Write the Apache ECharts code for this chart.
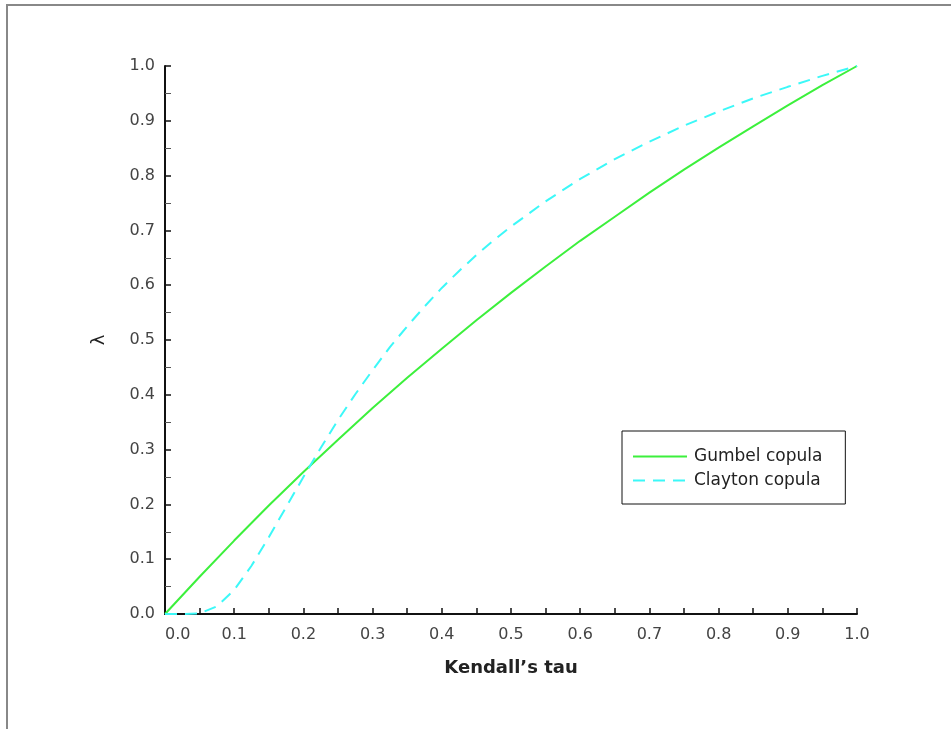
<!DOCTYPE html>
<html>
<head>
<meta charset="utf-8">
<script src="https://cdn.jsdelivr.net/npm/echarts@6/dist/echarts.min.js"></script>
<style>
  html, body { margin: 0; padding: 0; background: #fff; }
  #chart { width: 951px; height: 731px; }
</style>
</head>
<body>
<div id="chart"></div>
<script>
// Upper tail dependence λ as a function of Kendall's tau
const gumbelTau = [0, 0.05, 0.1, 0.15, 0.2, 0.25, 0.3, 0.35, 0.4, 0.45, 0.5,
  0.55, 0.6, 0.65, 0.7, 0.75, 0.8, 0.85, 0.9, 0.95, 1.0];
const gumbelLambda = [0, 0.068, 0.134, 0.198, 0.259, 0.318, 0.376, 0.431, 0.484, 0.536, 0.586,
  0.634, 0.681, 0.725, 0.769, 0.811, 0.851, 0.890, 0.928, 0.965, 1.0];

const claytonTau = [0, 0.025, 0.05, 0.075, 0.1, 0.125, 0.15, 0.175, 0.2, 0.225, 0.25, 0.275, 0.3,
  0.325, 0.35, 0.375, 0.4, 0.425, 0.45, 0.475, 0.5, 0.55, 0.6, 0.65, 0.7, 0.75, 0.8, 0.85, 0.9, 0.95, 1.0];
const claytonLambda = [0, 0, 0.001, 0.014, 0.044, 0.088, 0.140, 0.195, 0.250, 0.303, 0.354, 0.401, 0.445,
  0.487, 0.525, 0.561, 0.595, 0.626, 0.655, 0.682, 0.707, 0.753, 0.794, 0.830, 0.862, 0.891, 0.917,
  0.941, 0.962, 0.982, 1.0];

const seriesNames = ['Gumbel copula', 'Clayton copula'];
const xTitle = 'Kendall\u2019s tau';
const yTitle = '\u03bb';

const pairs = (xs, ys) => xs.map((x, i) => [x, ys[i]]);
const labelFont = 'DejaVu Sans';

const chart = echarts.init(document.getElementById('chart'));
chart.setOption({
  backgroundColor: '#fff',
  animation: false,
  grid: { left: 165, right: 94, top: 66, bottom: 117, containLabel: false },
  xAxis: {
    type: 'value', min: 0, max: 1, interval: 0.1,
    name: xTitle, nameLocation: 'middle', nameGap: 45,
    nameTextStyle: { fontFamily: labelFont, fontSize: 18, fontWeight: 'bold', color: '#222' },
    axisLine: { show: true, lineStyle: { color: '#111', width: 2 } },
    axisTick: { show: true, inside: true, length: 6, lineStyle: { color: '#111', width: 1.5 } },
    minorTick: { show: true, splitNumber: 2, length: 6, lineStyle: { color: '#111', width: 1.5 } },
    axisLabel: { fontFamily: labelFont, fontSize: 16, color: '#444', margin: 13, alignMinLabel: 'left',
      formatter: v => v.toFixed(1) },
    splitLine: { show: false }
  },
  yAxis: {
    type: 'value', min: 0, max: 1, interval: 0.1,
    name: yTitle, nameLocation: 'middle', nameGap: 57, nameRotate: 90,
    nameTextStyle: { fontFamily: labelFont, fontSize: 18, color: '#222' },
    axisLine: { show: true, lineStyle: { color: '#111', width: 2 } },
    axisTick: { show: true, inside: true, length: 6, lineStyle: { color: '#111', width: 1.5 } },
    minorTick: { show: true, splitNumber: 2, length: 6, lineStyle: { color: '#555', width: 1 } },
    axisLabel: { fontFamily: labelFont, fontSize: 16, color: '#444', margin: 10,
      formatter: v => v.toFixed(1) },
    splitLine: { show: false }
  },
  legend: {
    orient: 'vertical', left: 622, top: 431,
    padding: [17, 23, 15, 10], itemGap: 7,
    itemWidth: 54, itemHeight: 14,
    borderColor: '#111', borderWidth: 1, backgroundColor: '#fff',
    itemStyle: { opacity: 0 },
    textStyle: { fontFamily: labelFont, fontSize: 17, color: '#222', padding: [0, 0, 0, 2] },
    data: seriesNames
  },
  graphic: [
    { type: 'polyline', silent: true,
      shape: { points: [[7, 729], [7, 5], [951, 5]] },
      style: { stroke: '#888', lineWidth: 2, fill: null } }
  ],
  series: [
    { name: seriesNames[0], type: 'line', data: pairs(gumbelTau, gumbelLambda),
      showSymbol: false, symbol: 'none', smooth: false,
      color: '#3cf03c', lineStyle: { color: '#3cf03c', width: 2 } },
    { name: seriesNames[1], type: 'line', data: pairs(claytonTau, claytonLambda),
      showSymbol: false, symbol: 'none', smooth: false,
      color: '#3cf8f8', lineStyle: { color: '#3cf8f8', width: 2, type: [12, 8] } }
  ]
});
</script>
</body>
</html>
